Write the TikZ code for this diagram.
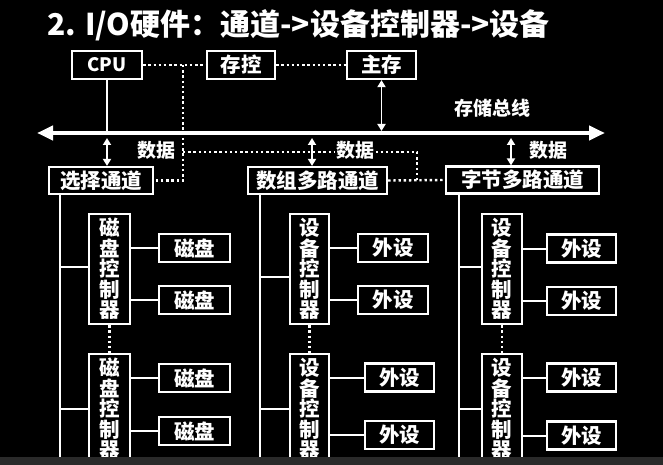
\documentclass[tikz,border=0pt]{standalone}
\usepackage{fontspec}
\setmainfont{Noto Sans CJK SC}
\usetikzlibrary{arrows.meta,calc}
\definecolor{stripgray}{HTML}{2A2A2A}
\begin{document}
\begin{tikzpicture}[x=1pt,y=-1pt,
  box/.style={draw=white, line width=2.2pt, fill=black, text=white, inner sep=0pt,
    font=\fontsize{20.5}{20.5}\selectfont\bfseries, align=center},
  wire/.style={draw=white, line width=2pt},
  dotline/.style={draw=white, line width=2.4pt, dash pattern=on 2.4pt off 2.8pt},
  tag/.style={text=white, inner sep=1.5pt, fill=black, font=\fontsize{19}{19}\selectfont\bfseries},
  dbl/.style={draw=white, line width=1.8pt, {Triangle[length=7pt,width=8pt]}-{Triangle[length=7pt,width=8pt]}},
  bus/.style={draw=white, line width=4pt, {Triangle[length=16pt,width=14pt]}-{Triangle[length=16pt,width=14pt]}},
  top/.style={box, minimum height=28pt},
  chan/.style={box, minimum height=27pt},
  ctrl/.style={box, minimum height=110pt},
  dev/.style={box, minimum width=71pt, minimum height=28pt},
]
% canvas
\fill[black] (0,0) rectangle (663,465);
\useasboundingbox (0,0) rectangle (663,465);

% title
\node[anchor=west, text=white, inner sep=0pt, font=\fontsize{30}{30}\selectfont\bfseries]
  (title) at (47,25) {2. I/O硬件：通道->设备控制器->设备};

% CPU, memory controller, main memory
\node[top, minimum width=70pt, font=\fontsize{18.5}{18.5}\selectfont\bfseries] (cpu) at (107,65) {CPU};
\node[top, minimum width=68pt] (ctl) at (241,65) {存控};
\node[top, minimum width=69pt] (mem) at (381.5,65) {主存};

% channels
\node[chan, minimum width=104pt] (sel)  at (101,180.5)   {选择通道};
\node[chan, minimum width=139pt] (arr)  at (317.5,180.5) {数组多路通道};
\node[chan, minimum width=153pt] (byte) at (522.5,180)   {字节多路通道};

% device controllers
\node[ctrl, minimum width=41pt] (c11) at (109.5,269) {磁\\盘\\控\\制\\器};
\node[ctrl, minimum width=41pt] (c12) at (109.5,409) {磁\\盘\\控\\制\\器};
\node[ctrl, minimum width=39pt] (c21) at (309.5,269) {设\\备\\控\\制\\器};
\node[ctrl, minimum width=39pt] (c22) at (309.5,409) {设\\备\\控\\制\\器};
\node[ctrl, minimum width=40pt] (c31) at (502,269)   {设\\备\\控\\制\\器};
\node[ctrl, minimum width=40pt] (c32) at (502,409)   {设\\备\\控\\制\\器};

% devices
\node[dev] (d11) at (194.5,248) {磁盘};
\node[dev] (d12) at (194.5,300) {磁盘};
\node[dev] (d13) at (194.5,378) {磁盘};
\node[dev] (d14) at (194.5,431) {磁盘};
\node[dev, minimum width=70pt] (d21) at (393,248)   {外设};
\node[dev, minimum width=70pt] (d22) at (393,300)   {外设};
\node[dev, minimum width=69pt] (d23) at (399.5,377.5) {外设};
\node[dev, minimum width=69pt] (d24) at (399.5,435)   {外设};
\node[dev, minimum width=69pt] (d31) at (581.5,248.5) {外设};
\node[dev, minimum width=69pt] (d32) at (581.5,301)   {外设};
\node[dev, minimum width=69pt] (d33) at (581.5,377.5) {外设};
\node[dev, minimum width=69pt] (d34) at (581.5,435.5) {外设};

% storage bus
\coordinate (busL) at (37,133);
\coordinate (busR) at (605,133);
\draw[bus] (busL) -- (busR);
\draw[wire] (cpu.south) -- (cpu.south |- busL);
\draw[dbl] (mem.south) -- ($(mem.south |- busL)+(0,-2)$);

% data paths between bus and channels
\coordinate (p1) at (107,138);
\coordinate (p2) at (312,138);
\coordinate (p3) at (511,138);
\draw[dbl] (p1) -- (p1 |- sel.north);
\draw[dbl] (p2) -- (p2 |- arr.north);
\draw[dbl] (p3) -- (p3 |- byte.north);

% control (dotted) lines
\coordinate (j1) at (183,65);
\coordinate (j2) at (183,152);
\coordinate (j3) at (417,152);
\draw[dotline] (cpu.east) -- (ctl.west);
\draw[dotline] (ctl.east) -- (mem.west);
\draw[dotline] (j1) |- (sel.east);
\draw[dotline] (j2) -- (j3) -- (j3 |- arr.east);
\draw[dotline] (arr.east) -- (byte.west);

% channel trunks
\coordinate (t1) at (60,470);
\coordinate (t2) at (260,470);
\coordinate (t3) at (459,470);
\draw[wire] (t1 |- sel.south) -- (t1);
\draw[wire] (t2 |- arr.south) -- (t2);
\draw[wire] (t3 |- byte.south) -- (t3);
\draw[wire] ($(t1 |- c11.west)+(0,-2)$) -- ($(c11.west)+(0,-2)$);
\draw[wire] (t1 |- c12.west) -- (c12.west);
\draw[wire] ($(t2 |- c21.west)+(0,8)$) -- ($(c21.west)+(0,8)$);
\draw[wire] (t2 |- c22.west) -- (c22.west);
\draw[wire] ($(t3 |- c31.west)+(0,-2)$) -- ($(c31.west)+(0,-2)$);
\draw[wire] (t3 |- c32.west) -- (c32.west);

% more controllers follow
\draw[dotline] (c11.south) -- (c12.north);
\draw[dotline] (c21.south) -- (c22.north);
\draw[dotline] (c31.south) -- (c32.north);

% controller to device links
\foreach \c/\d in {c11/d11,c11/d12,c12/d13,c12/d14,c21/d21,c21/d22,c22/d23,c22/d24,c31/d31,c31/d32,c32/d33,c32/d34}
  \draw[wire] (\d.west -| \c.east) -- (\d.west);

% labels
\node[tag] (lbus) at (492,108) {存储总线};
\node[tag] (ld1) at (156,150) {数据};
\node[tag] (ld2) at (355,150) {数据};
\node[tag] (ld3) at (548,150) {数据};

% bottom strip
\fill[stripgray] (0,457) rectangle (663,465);
\end{tikzpicture}
\end{document}
